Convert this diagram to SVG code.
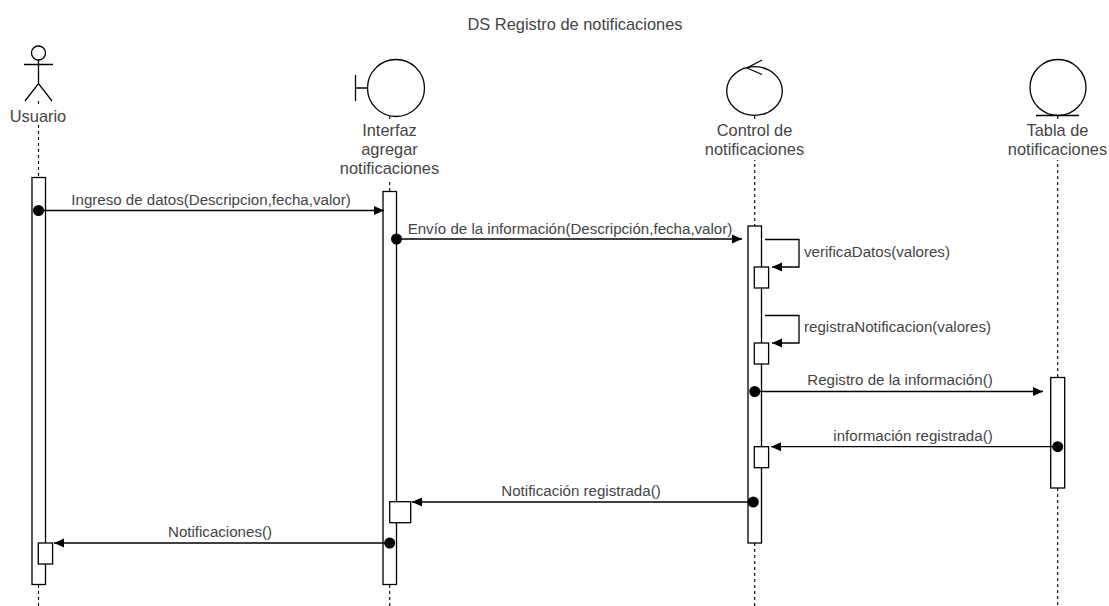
<svg xmlns="http://www.w3.org/2000/svg" width="1109" height="606" viewBox="0 0 1109 606">
<defs>
<marker id="arrow" markerUnits="userSpaceOnUse" markerWidth="11" markerHeight="10" refX="10" refY="5" orient="auto"><path d="M0 0.5L10 5L0 9.5Z" fill="#000"/></marker>
</defs>
<style>
text{font-family:"Liberation Sans",Arial,sans-serif;font-size:15.1px;fill:#444}
.n{font-size:16.4px}
.c{text-anchor:middle}
.s{fill:#fff;stroke:#000;stroke-width:1.3}
.l{fill:none;stroke:#000;stroke-width:1.3}
.life{fill:none;stroke:#000;stroke-width:1.1;stroke-dasharray:3 3}
.m{fill:none;stroke:#000;stroke-width:1.3;marker-end:url(#arrow)}
</style>
<rect width="1109" height="606" fill="#fff"/>
<text class="c n" x="575" y="30">DS Registro de notificaciones</text>
<g id="lifelines">
<path class="life" d="M38.500 101V177M38.500 585V606M389.700 116V191M389.700 585V606M754.700 116V226M754.700 543V606M1057.700 116V377M1057.700 488V606"/>
</g>
<g id="usuario">
<circle class="s" cx="38.500" cy="53" r="7"/>
<path class="l" d="M24 64.500H53M38.500 60V83.500M25 101L38.500 83.500L52 101"/>
<rect x="8" y="107" width="60" height="18" fill="#fff"/>
<text class="c n" x="38" y="121.500">Usuario</text>
<rect class="s" x="32" y="177.500" width="13.500" height="407"/>
<rect class="s" x="38.300" y="543" width="14.300" height="21"/>
</g>
<g id="interfaz">
<circle class="s" cx="396" cy="88" r="28.500"/>
<path class="l" d="M355.500 75V101M355.500 88H367.500"/>
<rect x="335" y="120" width="110" height="60" fill="#fff"/>
<text class="c n" x="389.500" y="135.500">Interfaz</text>
<text class="c n" x="389.500" y="155">agregar</text>
<text class="c n" x="389.500" y="174">notificaciones</text>
<rect class="s" x="383" y="191.500" width="13.500" height="393"/>
<rect class="s" x="389.700" y="501.700" width="21" height="21"/>
</g>
<g id="control">
<ellipse class="s" cx="754.500" cy="91" rx="27.800" ry="24.300"/>
<path class="l" d="M762 60L747 68L762 74.500"/>
<rect x="700" y="120" width="110" height="40" fill="#fff"/>
<text class="c n" x="754.500" y="136">Control de</text>
<text class="c n" x="754.500" y="155">notificaciones</text>
<rect class="s" x="748" y="226" width="13.500" height="317"/>
<rect class="s" x="754.300" y="267" width="14.300" height="21"/>
<rect class="s" x="754.300" y="343" width="14.300" height="21"/>
<rect class="s" x="754.300" y="446.700" width="14.300" height="21"/>
</g>
<g id="tabla">
<circle class="s" cx="1058" cy="87.500" r="28"/>
<path class="l" d="M1036 115.500H1079"/>
<rect x="1003" y="120" width="106" height="40" fill="#fff"/>
<text class="c n" x="1057.500" y="136">Tabla de</text>
<text class="c n" x="1057.500" y="155">notificaciones</text>
<rect class="s" x="1050.700" y="377.500" width="14" height="110.500"/>
</g>
<g id="connectors">
<circle cx="38.500" cy="210.500" r="5.500"/>
<path class="m" d="M38.500 210.500H384"/>
<circle cx="396.500" cy="239" r="5.500"/>
<path class="m" d="M396.500 239H742"/>
<path class="m" d="M765 239.500H799V267H772"/>
<path class="m" d="M765 315.500H799V343H772"/>
<circle cx="754.700" cy="391.500" r="5.500"/>
<path class="m" d="M755 391.500H1043"/>
<circle cx="1057.700" cy="446.700" r="5.500"/>
<path class="m" d="M1057.700 446.700H771"/>
<circle cx="753.300" cy="502" r="5.500"/>
<path class="m" d="M753.300 502H412"/>
<circle cx="389.700" cy="543" r="5.500"/>
<path class="m" d="M389.700 543H54"/>
</g>
<g id="labels">
<text class="c" x="211" y="205">Ingreso de datos(Descripcion,fecha,valor)</text>
<text class="c" x="570" y="233.500">Envío de la información(Descripción,fecha,valor)</text>
<text x="804" y="256.500">verificaDatos(valores)</text>
<text x="804" y="332">registraNotificacion(valores)</text>
<text class="c" x="900" y="385">Registro de la información()</text>
<text class="c" x="913" y="440.500">información registrada()</text>
<text class="c" x="581" y="495.500">Notificación registrada()</text>
<text class="c" x="220" y="537">Notificaciones()</text>
</g>
</svg>
